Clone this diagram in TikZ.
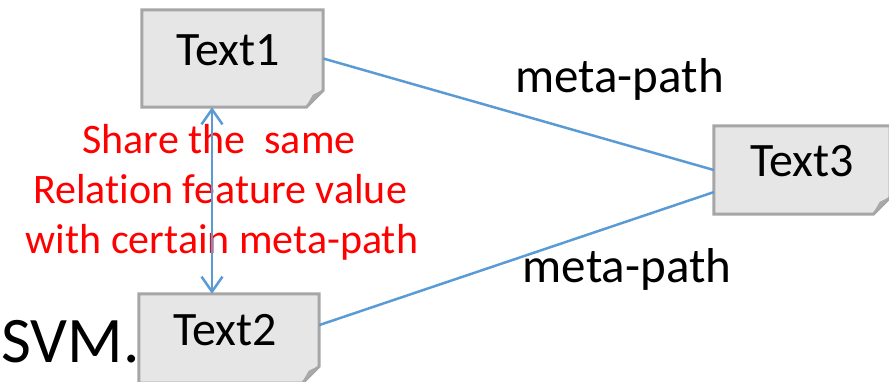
\documentclass[tikz,border=0pt]{standalone}
\usepackage{fontspec}
\setmainfont{Carlito}[Ligatures={NoCommon}]
\usetikzlibrary{calc,arrows.meta,backgrounds}
\definecolor{boxfill}{HTML}{E6E6E6}
\definecolor{boxline}{HTML}{A6A6A6}
\definecolor{foldgray}{HTML}{ABABAB}
\definecolor{linkblue}{HTML}{5B9BD5}
\tikzset{
  notebox/.style={rectangle, draw=none, inner sep=0pt},
  boxlabel/.style={anchor=base, inner sep=0pt, font=\fontsize{48}{58}\selectfont},
  pathlabel/.style={anchor=base, inner sep=0pt, font=\fontsize{49}{59}\selectfont},
  notelabel/.style={anchor=base, inner sep=0pt, text=red, font=\fontsize{42}{50}\selectfont},
  link/.style={draw=linkblue, line width=2.5pt},
}
% note-shaped outline with a folded bottom-right corner
\newcommand\foldbox[1]{%
  \filldraw[fill=boxfill, draw=boxline, line width=3pt, line join=miter]
    (#1.north west) -- (#1.north east) -- ([yshift=17pt]#1.south east)
    -- ([xshift=-17pt]#1.south east) -- (#1.south west) -- cycle;
  \filldraw[fill=foldgray, draw=boxline, line width=1pt, line join=round]
    ([yshift=17pt]#1.south east) -- ([xshift=-17pt]#1.south east)
    -- ([xshift=-10pt,yshift=12pt]#1.south east) -- cycle;
}
\begin{document}
\begin{tikzpicture}[x=1pt,y=-1pt]
\useasboundingbox (0,0) rectangle (889,381);

\node[anchor=base west, inner sep=0pt, font=\fontsize{65}{78}\selectfont] (svm) at (1,362) {SVM.};

\node[notebox, minimum width=181pt, minimum height=97pt] (t1) at (232.5,58.5) {};
\node[notebox, minimum width=180pt, minimum height=89pt] (t2) at (229,338.5) {};
\node[notebox, minimum width=176pt, minimum height=88pt] (t3) at (802,170) {};

\begin{scope}[on background layer]
  \foldbox{t1}
  \foldbox{t2}
  \foldbox{t3}
\end{scope}

\node[boxlabel] (t1text) at (228,65) {Text1};
\node[boxlabel] (t2text) at (225,345) {Text2};
\node[boxlabel] (t3text) at (802,176) {Text3};

% meta-path connectors
\coordinate (t2out) at ($(t2.north east)!0.35!(t2.south east)$);
\coordinate (t3in) at ($(t3.south west)!0.25!(t3.north west)$);
\draw[link] (t1.east) -- (t3.west);
\draw[link] (t2out) -- (t3in);

\node[pathlabel] (mp1) at (619.5,92) {meta-path};
\node[pathlabel] (mp2) at (627,282) {meta-path};

% shared relation feature value
\node[notelabel] (n1) at (219,153) {Share the\ \ same};
\node[notelabel] (n2) at (220,203) {Relation feature value};
\node[notelabel] (n3) at (222,253) {with certain meta-path};

\coordinate (up) at ($(t1.south west)!0.387!(t1.south east)$);
\draw[link, {Straight Barb[length=15pt,width=21pt]}-{Straight Barb[length=15pt,width=21pt]}]
  (up) -- (up |- t2.north);
\end{tikzpicture}
\end{document}
